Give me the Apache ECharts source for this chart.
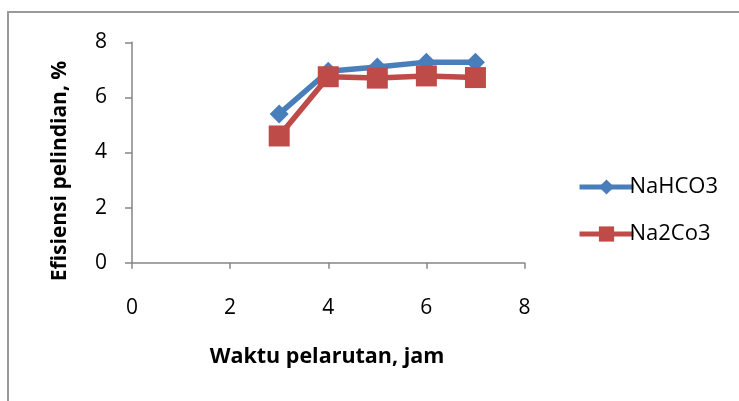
<!DOCTYPE html>
<html>
<head>
<meta charset="utf-8">
<script src="https://cdn.jsdelivr.net/npm/echarts@6/dist/echarts.min.js"></script>
<style>
  html, body { margin: 0; padding: 0; background: #fff; }
  #chart { width: 739px; height: 401px; }
</style>
</head>
<body>
<div id="chart"></div>
<script>
// Leaching time (hours)
const waktu = [3, 4, 5, 6, 7];
// Leaching efficiency (%) per reagent
const nahco3 = [5.4, 6.95, 7.1, 7.28, 7.28];
const na2co3 = [4.6, 6.75, 6.7, 6.78, 6.72];
const seriesNames = ['NaHCO3', 'Na2Co3'];
const xTitle = 'Waktu pelarutan, jam';
const yTitle = 'Efisiensi pelindian, %';

const font = '"Open Sans", sans-serif';
const chart = echarts.init(document.getElementById('chart'));

const pairs = (ys) => waktu.map((x, i) => [x, ys[i]]);

chart.setOption({
  animation: false,
  graphic: [{
    type: 'rect',
    shape: { x: 8, y: 12, width: 800, height: 500 },
    style: { fill: 'none', stroke: '#9a9a9a', lineWidth: 2 },
    silent: true
  }, {
    type: 'text',
    x: 327, y: 357,
    style: { text: xTitle, font: 'bold 21.5px ' + font, fill: '#000', align: 'center', verticalAlign: 'middle' }
  }, {
    type: 'text',
    x: 60, y: 171,
    rotation: Math.PI / 2,
    style: { text: yTitle, font: 'bold 21px ' + font, fill: '#000', align: 'center', verticalAlign: 'middle' }
  }],
  grid: { left: 132, right: 214.5, top: 42.3, bottom: 138.3 },
  legend: {
    orient: 'vertical',
    left: 572, top: 171,
    itemGap: 25,
    itemWidth: 54, itemHeight: 19,
    textStyle: { fontFamily: font, fontSize: 22, color: '#000', padding: [0, 0, 0, -9] },
    data: [
      { name: seriesNames[0], lineStyle: { width: 5 } },
      { name: seriesNames[1], lineStyle: { width: 5 } }
    ]
  },
  xAxis: {
    type: 'value', min: 0, max: 8, interval: 2,
    axisLine: { lineStyle: { color: '#868686', width: 1.5 } },
    axisTick: { show: true, length: 6, lineStyle: { color: '#868686', width: 1.5 } },
    axisLabel: { fontFamily: font, fontSize: 21, color: '#000', margin: 35 },
    splitLine: { show: false }
  },
  yAxis: {
    type: 'value', min: 0, max: 8, interval: 2,
    axisLine: { show: true, lineStyle: { color: '#868686', width: 1.5 } },
    axisTick: { show: true, length: 7, lineStyle: { color: '#868686', width: 1.5 } },
    axisLabel: { fontFamily: font, fontSize: 21, color: '#000', margin: 25 },
    splitLine: { show: false }
  },
  series: [{
    name: seriesNames[0],
    type: 'line',
    data: pairs(nahco3),
    symbol: 'diamond',
    symbolSize: 19,
    lineStyle: { color: '#4A7EBB', width: 5.5 },
    itemStyle: { color: '#4A7EBB' },
    z: 2
  }, {
    name: seriesNames[1],
    type: 'line',
    data: pairs(na2co3),
    symbol: 'rect',
    symbolSize: 21,
    lineStyle: { color: '#BE4B48', width: 5.5 },
    itemStyle: { color: '#BE4B48' },
    z: 3
  }]
});
</script>
</body>
</html>
